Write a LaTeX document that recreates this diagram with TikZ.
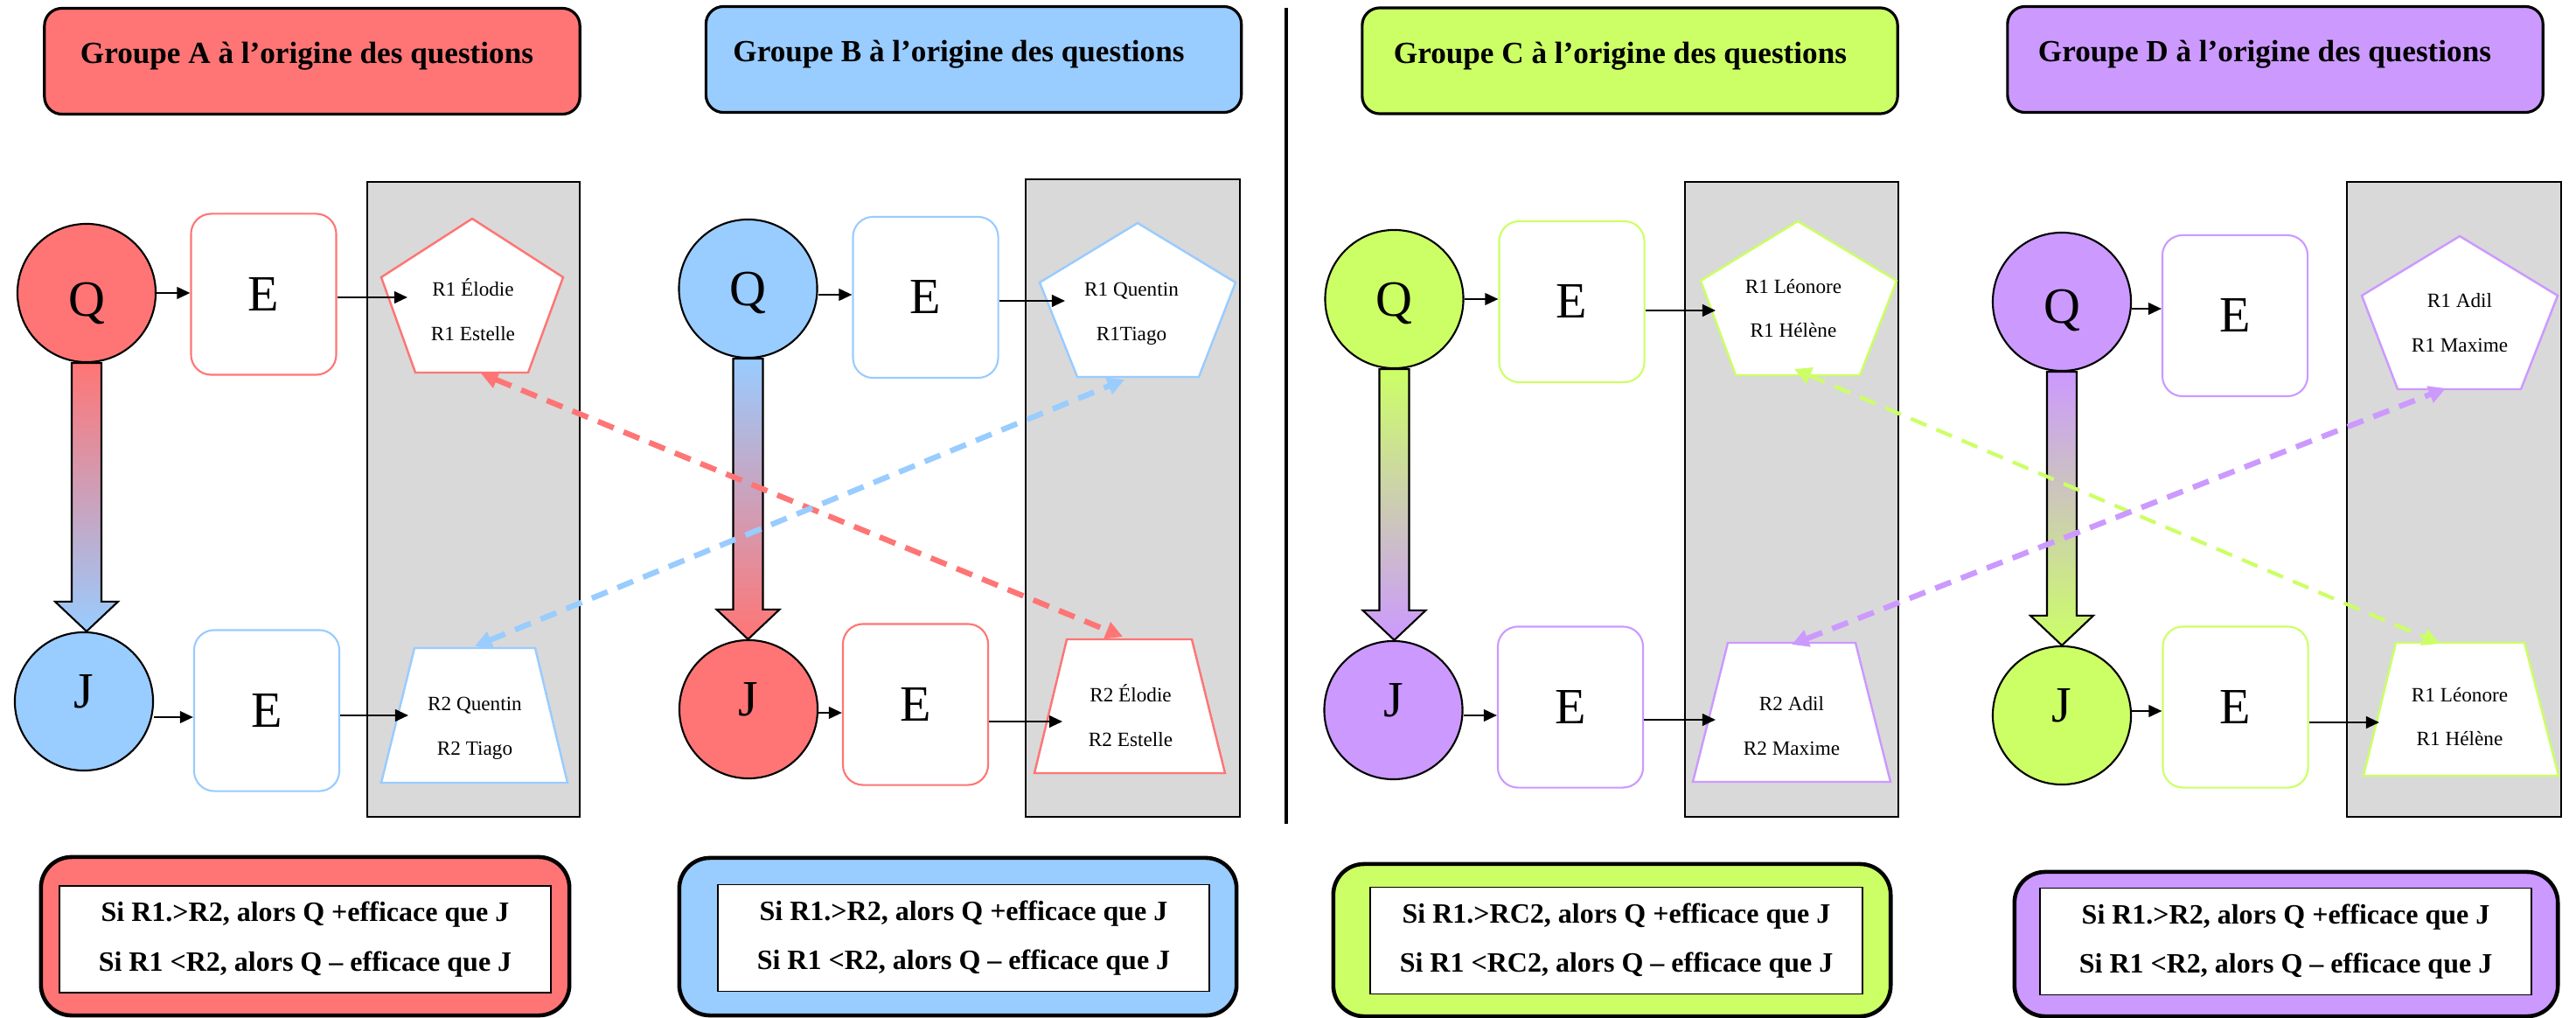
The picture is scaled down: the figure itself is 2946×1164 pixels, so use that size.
\documentclass[tikz,border=0pt]{standalone}
\usepackage{fontspec}
\setmainfont{Liberation Serif}
\usetikzlibrary{arrows.meta,calc}
\definecolor{cA}{HTML}{FF7575}
\definecolor{cB}{HTML}{99CCFF}
\definecolor{cC}{HTML}{CCFF66}
\definecolor{cD}{HTML}{CC99FF}
\definecolor{panelgray}{HTML}{D9D9D9}
\newcommand\grpTitleFont{\fontsize{10pt}{11pt}\selectfont\bfseries}
\newcommand\grpBigFont{\fontsize{16.5pt}{18pt}\selectfont}
\newcommand\grpSmallFont{\fontsize{6.6pt}{14.4pt}\selectfont}
\newcommand\grpRuleFont{\fontsize{9.1pt}{16pt}\selectfont\bfseries}
% block arrow from node #1 (south) to node #2 (north), shaded #3 -> #4
\newcommand\qjarrow[4]{%
  \path[draw=black, line width=0.6pt, top color=#3, bottom color=#4]
    let \p1=(#1.south), \p2=(#2.north) in
    (\x1-0.17cm,\y1) -- (\x1+0.17cm,\y1) -- (\x1+0.17cm,\y2+0.34cm)
    -- (\x1+0.36cm,\y2+0.34cm) -- (\x1,\y2) -- (\x1-0.36cm,\y2+0.34cm)
    -- (\x1-0.17cm,\y2+0.34cm) -- cycle;}
\begin{document}
\begin{tikzpicture}[x=0.01cm,y=-0.01cm,
  titlebox/.style={draw=black, line width=0.9pt, rounded corners=0.2cm,
    minimum width=6.12cm, minimum height=1.21cm, inner sep=0pt, font=\grpTitleFont,
    text height=7pt, text depth=5.3pt},
  panel/.style={draw=black, line width=0.6pt, fill=panelgray, inner sep=0pt},
  bigcirc/.style={circle, draw=black, line width=0.6pt, minimum size=1.58cm,
    inner sep=0pt, font=\grpBigFont, text depth=0pt},
  ebox/.style={draw, line width=0.6pt, fill=white, rounded corners=0.23cm,
    minimum width=1.66cm, minimum height=1.84cm, inner sep=0pt, font=\grpBigFont},
  shp/.style={line width=0.7pt, fill=white, line join=miter},
  rtext/.style={align=center, inner sep=0pt, font=\grpSmallFont},
  sarrow/.style={-{Triangle[length=4.3pt,width=3.9pt]}, line width=0.6pt, black},
  darrow/.style={{Triangle[length=5.5pt,width=5.5pt]}-{Triangle[length=5.5pt,width=5.5pt]},
    dash pattern=on 5.5pt off 3.5pt, line width=1.8pt},
  rulebox/.style={draw=black, line width=1.3pt, rounded corners=0.35cm, inner sep=0pt},
  ruleinner/.style={draw=black, line width=0.5pt, fill=white, inner sep=0pt,
    minimum width=5.62cm, minimum height=1.22cm, align=center, font=\grpRuleFont}
]
\useasboundingbox (0,0) rectangle (2946,1164);

% ---------- titles ----------
\node[titlebox, fill=cA] (gA) at (357,70)    {Groupe A à l’origine des questions\hspace*{0.12cm}};
\node[titlebox, fill=cB] (gB) at (1113.5,68) {Groupe B à l’origine des questions\hspace*{0.34cm}};
\node[titlebox, fill=cC] (gC) at (1864,69.5) {Groupe C à l’origine des questions\hspace*{0.22cm}};
\node[titlebox, fill=cD] (gD) at (2602,68)   {Groupe D à l’origine des questions\hspace*{0.24cm}};

% ---------- separator ----------
\draw[line width=1pt] (1471,9) -- (1471,942);

% ---------- gray panels ----------
\node[panel, minimum width=2.43cm, minimum height=7.26cm] (panA) at (541.5,571) {};
\node[panel, minimum width=2.45cm, minimum height=7.29cm] (panB) at (1295.5,569.5) {};
\node[panel, minimum width=2.44cm, minimum height=7.26cm] (panC) at (2049,571) {};
\node[panel, minimum width=2.45cm, minimum height=7.26cm] (panD) at (2806.5,571) {};

% ---------- Q / J circles ----------
\node[bigcirc, fill=cA, text height=15pt] (QA) at (99,335) {Q};
\node[bigcirc, fill=cB, text depth=0.22cm] (JA) at (96,802) {J};
\node[bigcirc, fill=cB] (QB) at (855.5,330) {Q};
\node[bigcirc, fill=cA, text depth=0.22cm] (JB) at (856,811) {J};
\node[bigcirc, fill=cC] (QC) at (1594.5,342) {Q};
\node[bigcirc, fill=cD, text depth=0.22cm] (JC) at (1593.5,812) {J};
\node[bigcirc, fill=cD, text height=14pt] (QD) at (2358,345) {Q};
\node[bigcirc, fill=cC, text depth=0.22cm] (JD) at (2358,818) {J};

% ---------- block arrows Q -> J ----------
\qjarrow{QA}{JA}{cA}{cB}
\qjarrow{QB}{JB}{cB}{cA}
\qjarrow{QC}{JC}{cC}{cD}
\qjarrow{QD}{JD}{cD}{cC}

% ---------- E boxes ----------
\node[ebox, draw=cA] (EA1) at (301.5,336.5) {E};
\node[ebox, draw=cB] (EA2) at (305,812.5)   {E};
\node[ebox, draw=cB] (EB1) at (1058.5,340)  {E};
\node[ebox, draw=cA] (EB2) at (1047,805.5)  {E};
\node[ebox, draw=cC] (EC1) at (1797.5,345)  {E};
\node[ebox, draw=cD] (EC2) at (1796,808.5)  {E};
\node[ebox, draw=cD] (ED1) at (2556,361)    {E};
\node[ebox, draw=cC] (ED2) at (2556.5,808.5){E};

% ---------- pentagons (R1) ----------
\draw[shp, draw=cA] (540,250) -- (644,317) -- (604,426) -- (475,426) -- (436,317) -- cycle;
\node[rtext] (rA1) at (541,354) {R1 Élodie\\R1 Estelle};
\draw[shp, draw=cB] (1301,255) -- (1413,323) -- (1371,431) -- (1232,431) -- (1189,323) -- cycle;
\node[rtext] (rB1) at (1294,359) {R1 Quentin\\R1Tiago};
\draw[shp, draw=cC] (2056,253) -- (2169,321) -- (2127,429) -- (1985,429) -- (1945,321) -- cycle;
\node[rtext] (rC1) at (2051,352.5) {R1 Léonore\\R1 Hélène};
\draw[shp, draw=cD] (2813,270) -- (2925,338) -- (2883,445) -- (2742,445) -- (2701,338) -- cycle;
\node[rtext] (rD1) at (2813,369) {R1 Adil\\R1 Maxime};

% ---------- trapezoids (R2) ----------
\draw[shp, draw=cB] (474,741) -- (612,741) -- (649,895) -- (436,895) -- cycle;
\node[rtext] (rA2) at (543,833) {R2 Quentin\\R2 Tiago};
\draw[shp, draw=cA] (1220,731) -- (1363,731) -- (1401,884) -- (1183,884) -- cycle;
\node[rtext] (rB2) at (1293,818) {R2 Élodie\\R2 Estelle};
\draw[shp, draw=cD] (1976,735) -- (2122,735) -- (2162,894) -- (1936,894) -- cycle;
\node[rtext] (rC2) at (2049,830) {R2 Adil\\R2 Maxime};
\draw[shp, draw=cC] (2740,735) -- (2887,735) -- (2926,887) -- (2703,887) -- cycle;
\node[rtext] (rD2) at (2813,819.5) {R1 Léonore\\R1 Hélène};

% ---------- arrow ends inside the R shapes ----------
\coordinate (inA1) at (466,340);
\coordinate (inA2) at (467,818);
\coordinate (inB1) at (1218,344);
\coordinate (inB2) at (1215,825);
\coordinate (inC1) at (1962,355);
\coordinate (inC2) at (1962,823);
\coordinate (inD2) at (2721,826);

% ---------- small arrows ----------
\draw[sarrow] (QA.east |- 0,335) -- (EA1.west |- 0,335);
\draw[sarrow] (EA1.east |- inA1) -- (inA1);
\draw[sarrow] (JA.east |- 0,820) -- (EA2.west |- 0,820);
\draw[sarrow] (EA2.east |- inA2) -- (inA2);
\draw[sarrow] (QB.east |- 0,337) -- (EB1.west |- 0,337);
\draw[sarrow] (EB1.east |- inB1) -- (inB1);
\draw[sarrow] (JB.east |- 0,815) -- (EB2.west |- 0,815);
\draw[sarrow] (EB2.east |- inB2) -- (inB2);
\draw[sarrow] (QC.east |- 0,342) -- (EC1.west |- 0,342);
\draw[sarrow] (EC1.east |- inC1) -- (inC1);
\draw[sarrow] (JC.east |- 0,818) -- (EC2.west |- 0,818);
\draw[sarrow] (EC2.east |- inC2) -- (inC2);
\draw[sarrow] (QD.east |- 0,353) -- (ED1.west |- 0,353);
\draw[sarrow] (JD.east |- 0,813) -- (ED2.west |- 0,813);
\draw[sarrow] (ED2.east |- inD2) -- (inD2);

% ---------- dashed cross links ----------
\coordinate (pAbot) at (550,427);
\coordinate (tBtop) at (1284,728);
\coordinate (tAtop) at (543,739);
\coordinate (pBbot) at (1286,434);
\coordinate (pCbot) at (2052,422);
\coordinate (tDtop) at (2790,736);
\coordinate (tCtop) at (2049,737);
\coordinate (pDbot) at (2797,444);
\draw[darrow, cA] (pAbot) -- (tBtop);
\draw[darrow, cB] (tAtop) -- (pBbot);
\draw[darrow, cC, line width=1.2pt] (pCbot) -- (tDtop);
\draw[darrow, cD] (tCtop) -- (pDbot);

% ---------- rule boxes ----------
\node[rulebox, fill=cA, minimum width=6.04cm, minimum height=1.81cm] (bA) at (349,1070.5) {};
\node[ruleinner] (iA) at (349,1074) {Si R1.>R2, alors Q +efficace que J\\Si R1 <R2, alors Q – efficace que J};
\node[rulebox, fill=cB, minimum width=6.37cm, minimum height=1.80cm] (bB) at (1095.5,1071) {};
\node[ruleinner] (iB) at (1102,1072.5) {Si R1.>R2, alors Q +efficace que J\\Si R1 <R2, alors Q – efficace que J};
\node[rulebox, fill=cC, minimum width=6.37cm, minimum height=1.74cm] (bC) at (1843.5,1075) {};
\node[ruleinner] (iC) at (1848.5,1075.5) {Si R1.>RC2, alors Q +efficace que J\\Si R1 <RC2, alors Q – efficace que J};
\node[rulebox, fill=cD, minimum width=6.21cm, minimum height=1.65cm] (bD) at (2614.5,1079.5) {};
\node[ruleinner] (iD) at (2614,1076.5) {Si R1.>R2, alors Q +efficace que J\\Si R1 <R2, alors Q – efficace que J};
\end{tikzpicture}
\end{document}
